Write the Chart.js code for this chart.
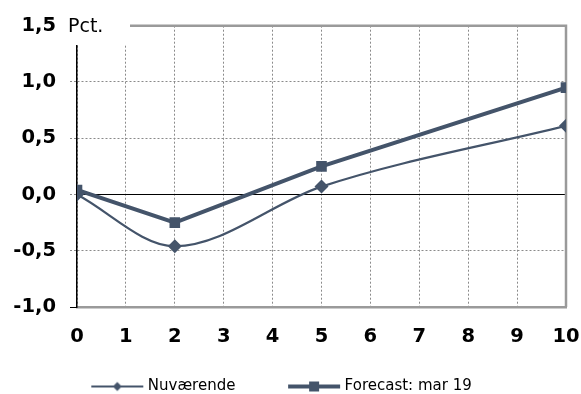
<!DOCTYPE html>
<html>
<head>
<meta charset="utf-8">
<script src="https://cdn.jsdelivr.net/npm/chart.js@4"></script>
<style>
  html, body { margin: 0; padding: 0; background: #fff; }
  #wrap { width: 581px; height: 394px; }
</style>
</head>
<body>
<div id="wrap"><canvas id="myChart" width="581" height="394"></canvas></div>
<script>
// data
const xValues = [0, 2, 5, 10];
const nuvaerende = [0.0, -0.46, 0.07, 0.61];
const forecast = [0.04, -0.25, 0.25, 0.95];
const seriesNames = ['Nuværende', 'Forecast: mar 19'];
const yTicks = [-1.0, -0.5, 0.0, 0.5, 1.0, 1.5];
const xTicks = [0, 1, 2, 3, 4, 5, 6, 7, 8, 9, 10];

const lineColor = '#44546a';
const gridColor = '#8a8a8a';
const frameColor = '#9a9a9a';

// small pictures for the legend (line with marker)
function legendIcon(kind) {
  const c = document.createElement('canvas');
  c.width = 54; c.height = 16;
  const g = c.getContext('2d');
  g.strokeStyle = lineColor;
  g.fillStyle = lineColor;
  g.lineWidth = kind === 'square' ? 4 : 2;
  g.beginPath();
  g.moveTo(1, 8); g.lineTo(53, 8);
  g.stroke();
  g.beginPath();
  if (kind === 'square') {
    g.rect(22, 3, 10, 10);
  } else {
    g.moveTo(27, 3.5); g.lineTo(31.5, 8); g.lineTo(27, 12.5); g.lineTo(22.5, 8);
    g.closePath();
  }
  g.fill();
  return c;
}
const icons = [legendIcon('diamond'), legendIcon('square')];

// frame on top/right plus the "Pct." label box
const framePlugin = {
  id: 'frame',
  beforeDatasetsDraw(chart) {
    const {ctx, chartArea} = chart;
    ctx.save();
    // white box behind Pct.
    ctx.fillStyle = '#fff';
    ctx.fillRect(chartArea.left - 8, 0, 130 - chartArea.left + 8, 45);
    ctx.strokeStyle = frameColor;
    ctx.lineWidth = 2.5;
    ctx.beginPath();
    ctx.moveTo(130, chartArea.top);
    ctx.lineTo(chartArea.right, chartArea.top);
    ctx.lineTo(chartArea.right, chartArea.bottom);
    ctx.stroke();
    ctx.fillStyle = '#000';
    ctx.font = '19px "DejaVu Sans"';
    ctx.textBaseline = 'middle';
    ctx.textAlign = 'left';
    ctx.fillText('Pct.', 68, chartArea.top + 1);
    ctx.restore();
  }
};

const myChart = document.getElementById('myChart');

new Chart(myChart, {
  type: 'line',
  data: {
    datasets: [{
      label: seriesNames[0],
      data: xValues.map((x, i) => ({x: x, y: nuvaerende[i]})),
      borderColor: lineColor,
      backgroundColor: lineColor,
      borderWidth: 2.2,
      cubicInterpolationMode: 'monotone',
      pointStyle: 'rectRot',
      pointRadius: 7,
      pointBorderWidth: 0,
      order: 2
    }, {
      label: seriesNames[1],
      data: xValues.map((x, i) => ({x: x, y: forecast[i]})),
      borderColor: lineColor,
      backgroundColor: lineColor,
      borderWidth: 4,
      tension: 0,
      pointStyle: 'rect',
      pointRadius: 7.5,
      pointBorderWidth: 0,
      order: 1
    }]
  },
  options: {
    responsive: false,
    animation: false,
    layout: { padding: { top: 19, right: 15, left: 0, bottom: -10 } },
    plugins: {
      tooltip: { enabled: false },
      legend: {
        position: 'bottom',
        labels: {
          usePointStyle: true,
          pointStyleWidth: 46,
          padding: 8,
          color: '#000',
          font: { family: 'DejaVu Sans', size: 15 },
          generateLabels: chart => seriesNames.map((name, i) => ({
            // trailing spaces keep the gap between the two entries
            text: i === 0 ? name + '\u00a0'.repeat(10) : name,
            pointStyle: icons[i],
            datasetIndex: i,
            fillStyle: lineColor,
            strokeStyle: lineColor,
            lineWidth: 0,
            hidden: false
          }))
        }
      }
    },
    scales: {
      x: {
        type: 'linear',
        min: 0,
        max: 10,
        afterBuildTicks: scale => { scale.ticks = xTicks.map(v => ({value: v})); },
        afterFit: scale => {
          scale.height = 64;
          scale.paddingLeft = 0;
          scale.paddingRight = 15;
        },
        ticks: {
          color: '#000',
          padding: 18,
          font: { family: 'DejaVu Sans', size: 19.5, weight: 'bold' }
        },
        grid: {
          color: gridColor,
          lineWidth: 1,
          drawTicks: false
        },
        border: { display: true, color: frameColor, width: 2.5, dash: [2, 2] }
      },
      y: {
        min: -1.0,
        max: 1.5,
        afterBuildTicks: scale => { scale.ticks = yTicks.map(v => ({value: v})); },
        afterFit: scale => { scale.width = 77; },
        ticks: {
          color: '#000',
          padding: 14,
          font: { family: 'DejaVu Sans', size: 19.5, weight: 'bold' },
          callback: v => v.toFixed(1).replace('.', ',')
        },
        grid: {
          color: ctx => ctx.tick && ctx.tick.value === 0 ? '#000' : gridColor,
          lineWidth: 1,
          tickLength: 7,
          tickColor: ctx => ctx.tick && ctx.tick.value === -1 ? '#000' : gridColor,
          tickBorderDash: ctx => ctx.tick && ctx.tick.value === -1 ? [] : [2, 2]
        },
        border: {
          display: true,
          color: '#000',
          width: 1.5,
          dash: ctx => ctx.tick && ctx.tick.value === 0 ? [] : [2, 2]
        }
      }
    }
  },
  plugins: [framePlugin]
});
</script>
</body>
</html>
